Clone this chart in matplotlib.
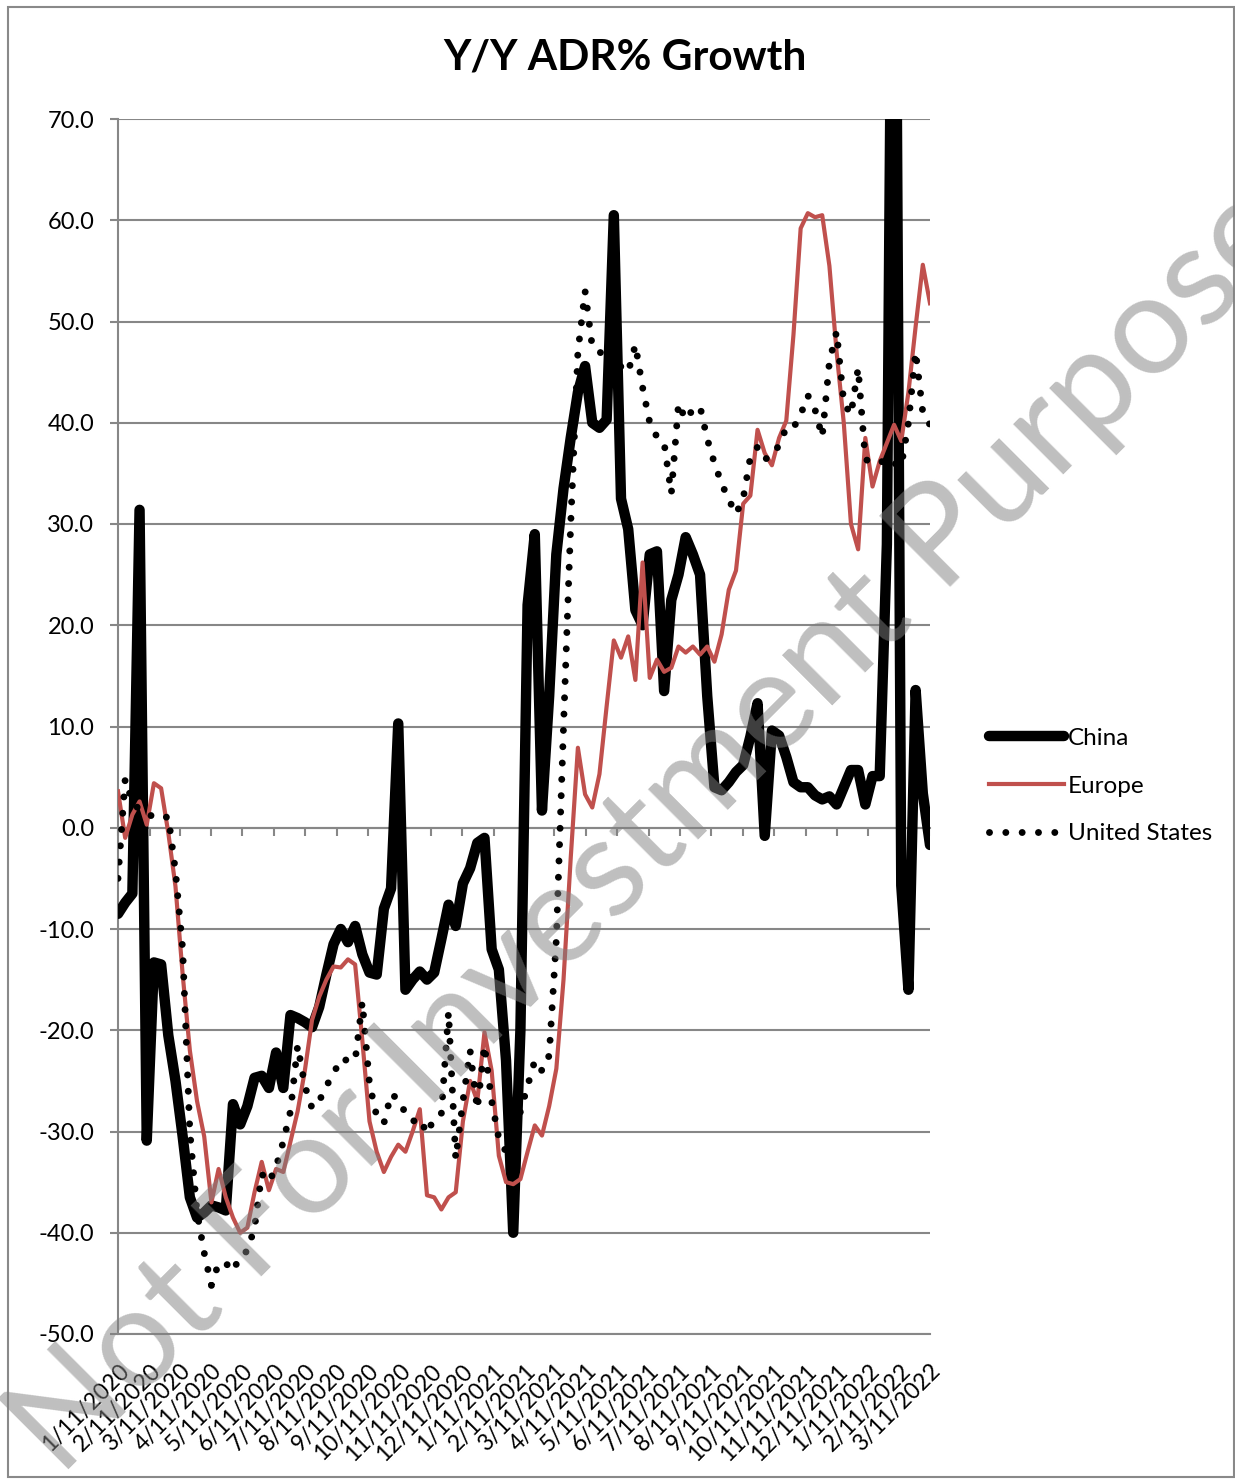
import matplotlib
matplotlib.use('Agg')
import matplotlib.pyplot as plt
import matplotlib.dates as mdates
import numpy as np
import pandas as pd
from matplotlib.patches import Rectangle

plt.rcParams['font.family'] = ['Lato', 'DejaVu Sans']

# ---------------- data (weekly, from 1/11/2020) ----------------
start_date = '2020-01-11'
n_weeks = 114
dates = pd.date_range(start_date, periods=n_weeks, freq='7D')

china = [
    -8.5, -7.4, -6.5, 31.4, -30.9, -13.3, -13.5, -20.5, -25.0, -30.5,
    -36.5, -38.5, -38.0, -37.3, -37.5, -37.8, -27.3, -29.3, -27.5, -24.7,
    -24.5, -25.7, -22.2, -25.7, -18.5, -18.8, -19.2, -19.7, -17.7, -14.5,
    -11.5, -10.0, -11.3, -9.7, -12.5, -14.3, -14.5, -8.0, -6.0, 10.3,
    -16.0, -15.0, -14.2, -15.0, -14.3, -11.0, -7.6, -9.7, -5.5, -4.0,
    -1.5, -1.0, -12.0, -14.0, -23.0, -40.0, -20.0, 22.0, 29.0, 1.7,
    13.0, 27.0, 33.5, 38.5, 43.0, 45.6, 40.0, 39.5, 40.3, 60.5,
    32.5, 29.5, 21.5, 20.0, 27.0, 27.3, 13.5, 22.5, 25.0, 28.7,
    27.0, 25.0, 13.0, 4.0, 3.7, 4.5, 5.5, 6.2, 9.0, 12.3,
    -0.8, 9.6, 9.1, 7.0, 4.5, 4.0, 4.0, 3.2, 2.8, 3.1,
    2.3, 4.0, 5.7, 5.7, 2.3, 5.1, 5.1, 28.0, 120.0, -5.7,
    -16.0, 13.6, 3.4, -1.7,
]

europe = [
    3.6, -1.0, 1.3, 2.6, 0.3, 4.4, 3.9, -0.5, -5.8, -14.5,
    -22.0, -27.0, -30.5, -37.0, -33.7, -36.5, -38.5, -40.0, -39.5, -36.0,
    -33.0, -35.8, -33.7, -34.0, -31.0, -28.0, -24.0, -19.0, -16.7, -15.0,
    -13.7, -13.8, -13.0, -13.5, -21.0, -29.0, -32.0, -34.0, -32.5, -31.3,
    -32.0, -30.0, -27.8, -36.3, -36.5, -37.7, -36.5, -36.0, -29.0, -25.0,
    -27.0, -20.2, -24.0, -32.4, -35.0, -35.2, -34.7, -32.0, -29.4, -30.4,
    -27.5, -23.8, -15.0, -3.0, 7.9, 3.3, 2.0, 5.3, 12.0, 18.5,
    16.8, 18.9, 14.6, 26.2, 14.8, 16.6, 15.4, 15.8, 17.9, 17.3,
    17.9, 17.1, 17.9, 16.4, 19.1, 23.5, 25.4, 32.0, 32.8, 39.3,
    37.0, 35.8, 38.5, 40.2, 48.7, 59.2, 60.7, 60.3, 60.5, 55.5,
    47.0, 40.0, 30.0, 27.5, 38.5, 33.7, 36.2, 38.0, 39.8, 38.2,
    43.0, 49.5, 55.6, 51.8,
]

united_states = [
    -5.0, 4.8, 2.5, 1.8, 1.5, 1.0, 0.9, 1.1, -4.3, -12.0,
    -30.0, -38.0, -42.0, -45.2, -43.0, -43.0, -43.8, -42.3, -41.8, -39.5,
    -34.2, -35.0, -33.5, -31.0, -28.0, -21.5, -25.5, -27.7, -27.0, -25.5,
    -24.3, -22.8, -23.0, -23.0, -17.2, -25.3, -28.5, -29.2, -26.3, -26.8,
    -28.2, -29.0, -28.7, -30.2, -28.7, -28.2, -18.2, -32.7, -27.0, -22.0,
    -27.8, -21.5, -27.0, -30.7, -32.0, -33.0, -28.0, -25.5, -23.0, -24.0,
    -22.5, -11.0, 10.0, 30.0, 47.0, 53.0, 47.5, 47.0, 46.5, 47.0,
    45.5, 45.0, 47.7, 43.5, 40.0, 38.6, 38.0, 33.0, 41.9, 40.3,
    41.3, 41.6, 38.4, 36.0, 34.0, 32.4, 31.0, 32.5, 36.6, 37.6,
    36.4, 36.7, 37.8, 39.5, 39.5, 40.8, 42.7, 41.3, 38.6, 46.0,
    49.0, 42.0, 40.8, 45.4, 36.4, 36.0, 36.0, 36.5, 36.0, 35.7,
    40.0, 47.0, 41.0, 39.8,
]

series_names = ['China', 'Europe', 'United States']
tick_dates = [pd.Timestamp(start_date) + pd.DateOffset(months=k) for k in range(27)]
tick_labels = [f"{d.month}/{d.day}/{d.year}" for d in tick_dates]
y_ticks = np.arange(-50, 71, 10)

# ---------------- figure ----------------
W, H = 1235, 1479
fig = plt.figure(figsize=(W / 100, H / 100), dpi=100)
fig.patch.set_facecolor('white')
fig.patches.append(Rectangle((7.5 / W, 1 - 1477 / H), (1234 - 7.5) / W, (1477 - 6.5) / H,
                             transform=fig.transFigure, fill=False,
                             edgecolor='#898989', lw=1.5, zorder=0))

ax = fig.add_axes([118 / W, 1 - 1334 / H, (930 - 118) / W, (1334 - 119) / H])
grid_color = '#878787'

ax.plot(dates, china, color='black', lw=7.5, solid_joinstyle='round',
        solid_capstyle='round', label=series_names[0], zorder=3)
ax.plot(dates, europe, color='#C0504D', lw=3.0, solid_joinstyle='round',
        label=series_names[1], zorder=4)
ax.plot(dates, united_states, color='black', lw=5.0, linestyle=(0, (0.001, 2.35)),
        dash_capstyle='round', label=series_names[2], zorder=5)

ax.set_ylim(-50, 70)
ax.set_xlim(dates[0], dates[-1])
ax.set_yticks(y_ticks)
ax.set_yticklabels([f"{v:.1f}" for v in y_ticks])
ax.yaxis.grid(True, color=grid_color, lw=1.5)
ax.set_axisbelow(True)
for s in ['top', 'right']:
    ax.spines[s].set_visible(False)
for s in ['left', 'bottom']:
    ax.spines[s].set_color(grid_color)
    ax.spines[s].set_linewidth(1.5)

ax.set_xticks(tick_dates)
ax.set_xticklabels(tick_labels, rotation=45, ha='right', va='top',
                   rotation_mode='anchor')
ax.tick_params(axis='x', length=0, pad=19, labelsize=16.5)
ax.tick_params(axis='y', length=6, width=1.5, color=grid_color, pad=11,
               labelsize=17)

# horizontal axis crossing at zero with tick marks
sec = ax.secondary_xaxis(0, transform=ax.transData)
sec.set_xticks(mdates.date2num(tick_dates))
sec.set_xticklabels([''] * len(tick_dates))
sec.tick_params(axis='x', length=6, width=1.5, color=grid_color, direction='out')
sec.spines['bottom'].set_color(grid_color)
sec.spines['bottom'].set_linewidth(1.5)

fig.text(625 / W, 1 - 58 / H, 'Y/Y ADR% Growth', ha='center', va='center',
         fontsize=30.5, fontweight='bold')

ax.legend(loc='center left', bbox_to_anchor=(989 / W, 1 - 786 / H),
          bbox_transform=fig.transFigure, frameon=False, fontsize=17.5,
          handlelength=3.1, handletextpad=0.15, labelspacing=1.1,
          borderpad=0, borderaxespad=0)

fig.text(652 / W, 1 - 830 / H, 'Not For Investment Purpose', rotation=45,
         ha='center', va='center', fontsize=101, color='#808080', alpha=0.5,
         zorder=20, rotation_mode='anchor')

fig.savefig('out.png', dpi=100)
